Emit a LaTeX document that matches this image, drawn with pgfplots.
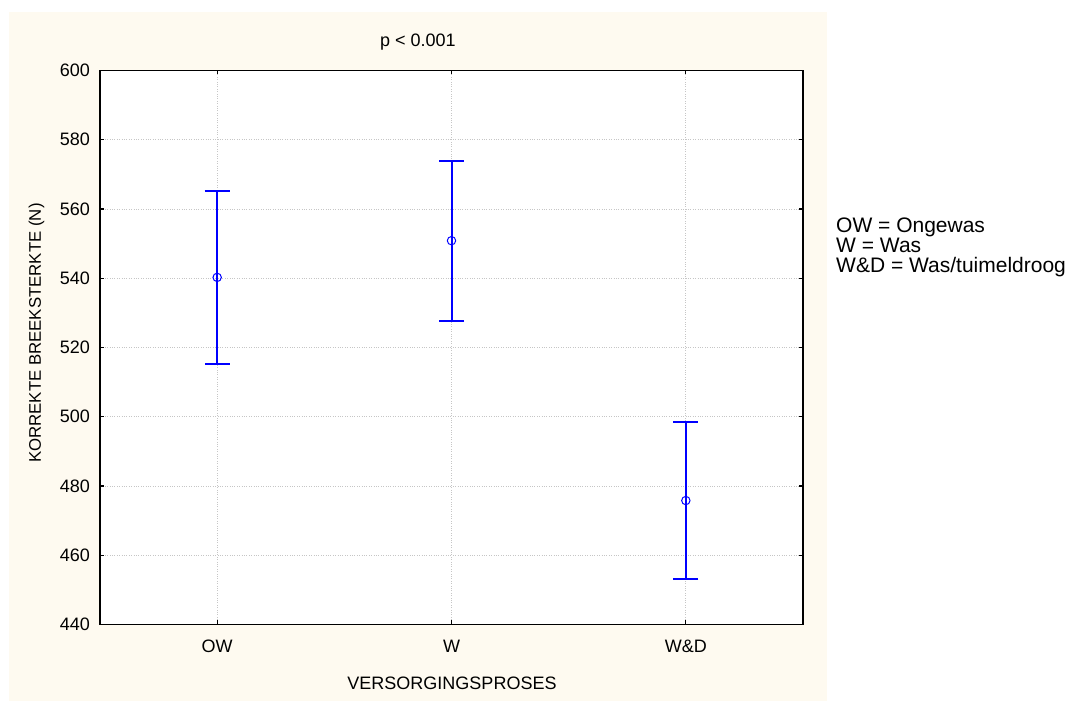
\documentclass[border=0pt]{standalone}
\usepackage{fontspec}
\setmainfont{Liberation Sans}
\usepackage{pgfplots}
\pgfplotsset{compat=1.18}
\definecolor{panel}{RGB}{254,250,240}
\definecolor{barblue}{RGB}{0,0,255}
\newcommand{\lblfont}{\fontsize{18}{22}\selectfont}
\newcommand{\ylblfont}{\fontsize{16.8}{20}\selectfont}
\newcommand{\keyfont}{\fontsize{21}{25}\selectfont}
\begin{document}
\begin{tikzpicture}[x=1pt,y=1pt]
\useasboundingbox (0,0) rectangle (1069,702);
\fill[panel] (9,1) rectangle (827,690);
\begin{axis}[
  at={(100pt,77.5pt)}, anchor=south west,
  width=703pt, height=554pt, scale only axis,
  axis background/.style={fill=white},
  xmin=0.5, xmax=3.5, ymin=440, ymax=600,
  xtick={1,2,3}, xticklabels={OW,W,W\&D},
  ytick={440,460,...,600},
  /pgf/number format/assume math mode=true,
  /pgf/number format/1000 sep={},
  tick label style={font=\lblfont},
  xticklabel style={anchor=base, yshift=-27.5pt},
  yticklabel style={anchor=east, inner sep=0pt, xshift=-10pt},
  tick align=inside, major tick length=4pt,
  tick style={black, line width=1.2pt},
  axis line style={black, line width=1.8pt},
  grid=major,
  major grid style={dotted, gray!45, line width=0.8pt},
  xlabel={VERSORGINGSPROSES},
  ylabel={KORREKTE BREEKSTERKTE (N)},
  xlabel style={font=\lblfont, at={(axis description cs:0.5007,-0.1056)}, anchor=center},
  ylabel style={font=\ylblfont, at={(axis description cs:-0.0903,0.526)}, anchor=center},
  title={p < 0.001},
  every axis title shift=0pt,
  title style={font=\lblfont, at={(axis description cs:0.4523,1.043)}, anchor=base},
  clip=false,
]
\addplot[
  only marks, mark=o, mark size=4.2pt,
  mark options={draw=barblue, fill=white, line width=1pt},
  error bars/.cd, y dir=both, y explicit,
  error bar style={barblue, line width=2pt},
  error mark options={rotate=90, barblue, line width=2pt, mark size=12.5pt},
] coordinates {
  (1,540.25) +- (0,25.05)
  (2,550.85) +- (0,23.15)
  (3,475.8)  +- (0,22.7)
};
\end{axis}
\node[anchor=base west, inner sep=0pt, font=\keyfont] at (836,469) {OW = Ongewas};
\node[anchor=base west, inner sep=0pt, font=\keyfont] at (836,449) {W = Was};
\node[anchor=base west, inner sep=0pt, font=\keyfont] at (836,429) {W\&D = Was/tuimeldroog};
\end{tikzpicture}
\end{document}
